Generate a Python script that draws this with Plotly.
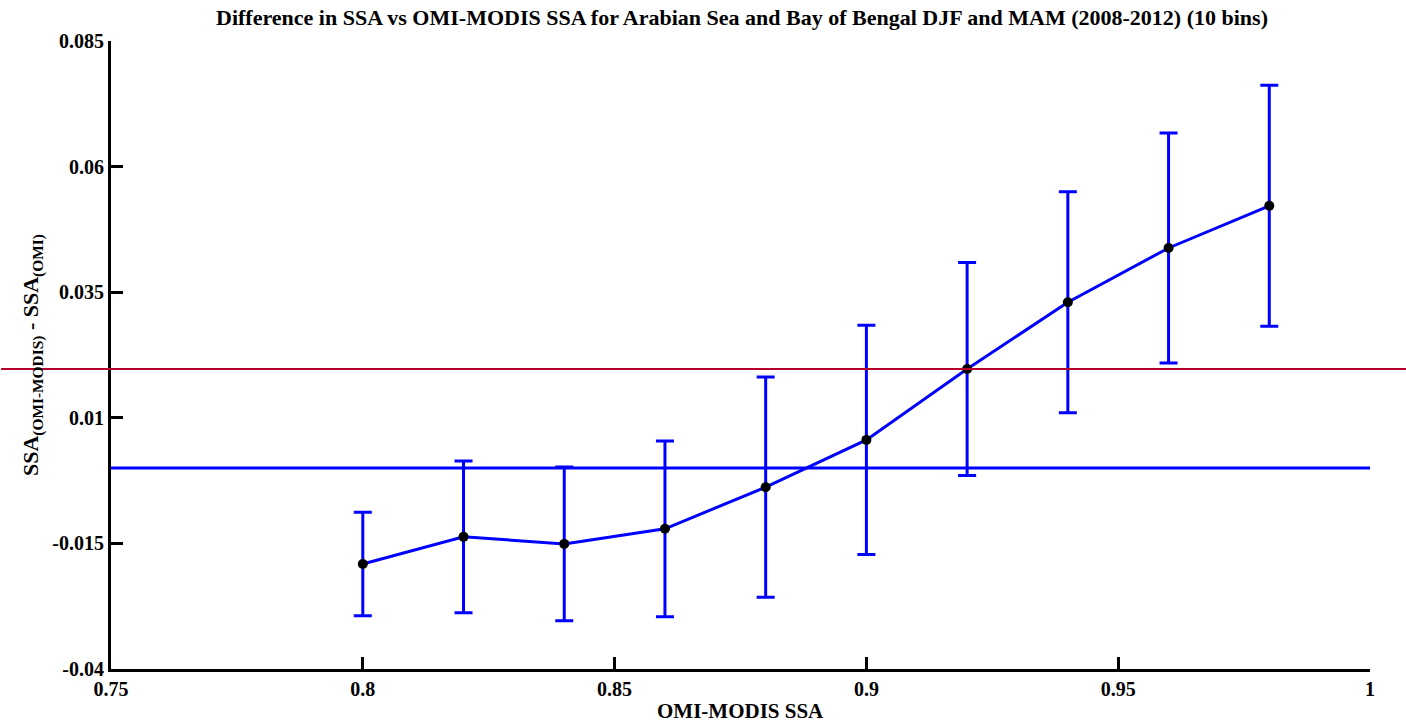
import plotly.graph_objects as go

# Data
ssa_bins = [0.80, 0.82, 0.84, 0.86, 0.88, 0.90, 0.92, 0.94, 0.96, 0.98]
ssa_diff = [-0.0191, -0.0137, -0.0151, -0.0121, -0.0038, 0.0056, 0.0197, 0.0330, 0.0438, 0.0522]
ssa_err = [0.0103, 0.0151, 0.0153, 0.0175, 0.0219, 0.0228, 0.0212, 0.0220, 0.0229, 0.0240]
zero_line = 0.0
red_line = 0.0197

x_ticks = [0.75, 0.8, 0.85, 0.9, 0.95, 1.0]
x_ticktext = ["0.75", "0.8", "0.85", "0.9", "0.95", "1"]
y_ticks = [0.085, 0.06, 0.035, 0.01, -0.015, -0.04]
y_ticktext = ["0.085", "0.06", "0.035", "0.01", "-0.015", "-0.04"]

FONT = "Liberation Serif, Times New Roman, serif"

fig = go.Figure()

fig.add_trace(go.Scatter(
    x=ssa_bins, y=ssa_diff,
    mode="lines+markers",
    line=dict(color="#0000FF", width=3),
    marker=dict(color="#000000", size=10),
    error_y=dict(type="data", array=ssa_err, visible=True,
                 color="#0000FF", thickness=3, width=9),
    showlegend=False,
))

# zero reference line across the axes
fig.add_shape(type="line", xref="paper", yref="y", x0=0, x1=1,
              y0=zero_line, y1=zero_line,
              line=dict(color="#0000FF", width=3), layer="below")
# red line across whole page width
fig.add_shape(type="line", xref="paper", yref="y", x0=-0.0873, x1=1.0286,
              y0=red_line, y1=red_line,
              line=dict(color="#B5002B", width=2), layer="above")

# y-axis title as rotated annotation for precise placement
fig.add_annotation(
    text="<b>SSA<sub>(OMI-MODIS)</sub> - SSA<sub>(OMI)</sub></b>",
    xref="paper", yref="paper", x=(32 - 111) / 1259, y=0.5,
    xanchor="center", yanchor="middle", textangle=-90, showarrow=False,
    font=dict(family=FONT, size=22, color="black"),
)

# x-axis title as annotation
fig.add_annotation(
    text="<b>OMI-MODIS SSA</b>",
    xref="paper", yref="paper", x=0.5, y=-(711 - 669) / 628,
    xanchor="center", yanchor="middle", showarrow=False,
    font=dict(family=FONT, size=21, color="black"),
)

fig.update_layout(
    width=1406, height=723,
    margin=dict(l=111, r=36, t=41, b=54),
    plot_bgcolor="white", paper_bgcolor="white",
    font=dict(family=FONT, size=20, color="black", weight="bold"),
    title=dict(
        text="<b>Difference in SSA vs OMI-MODIS SSA for Arabian Sea and Bay of Bengal DJF and MAM (2008-2012) (10 bins)</b>",
        x=742 / 1406, xanchor="center", y=1 - 17 / 723, yanchor="middle",
        font=dict(family=FONT, size=22, color="black"),
    ),
    xaxis=dict(
        range=[0.75, 1.0], tickvals=x_ticks, ticktext=x_ticktext,
        ticks="inside", ticklen=12, tickwidth=3, tickcolor="black",
        showline=True, linewidth=3, linecolor="black", mirror=False,
        showgrid=False, zeroline=False, automargin=False,
        tickfont=dict(family=FONT, size=20, weight="bold"),
    ),
    yaxis=dict(
        range=[-0.04, 0.085], tickvals=y_ticks, ticktext=y_ticktext,
        ticks="inside", ticklen=12, tickwidth=3, tickcolor="black",
        showline=True, linewidth=3, linecolor="black", mirror=False,
        showgrid=False, zeroline=False, automargin=False,
        tickfont=dict(family=FONT, size=20, weight="bold"),
    ),
)

fig.write_html("out.html")
